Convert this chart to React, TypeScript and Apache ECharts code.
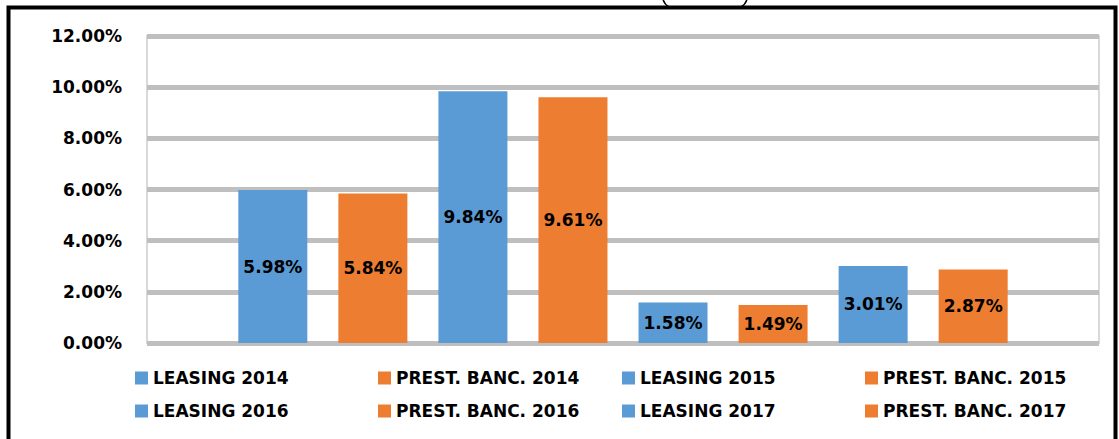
import React, { useEffect, useRef } from "react";
import * as echarts from "echarts";

const years = ["2014", "2015", "2016", "2017"];
const leasingValues = [5.98, 9.84, 1.58, 3.01];
const prestamoValues = [5.84, 9.61, 1.49, 2.87];
const yTicks = { min: 0, max: 12, interval: 2 };
const leasingPrefix = "LEASING";
const prestamoPrefix = "PREST. BANC.";

const BLUE = "#5B9BD5";
const ORANGE = "#ED7D31";
const FONT = "DejaVu Sans";

export default function App() {
  const ref = useRef<HTMLDivElement>(null);

  useEffect(() => {
    if (!ref.current) return;
    const chart = echarts.init(ref.current, undefined, { renderer: "svg" });

    const series: any[] = [];
    const names: string[] = [];
    years.forEach((y, i) => {
      const ln = `${leasingPrefix} ${y}`;
      const pn = `${prestamoPrefix} ${y}`;
      names.push(ln, pn);
      series.push({
        name: ln,
        type: "bar",
        data: [leasingValues[i]],
        itemStyle: { color: BLUE },
      });
      series.push({
        name: pn,
        type: "bar",
        data: [prestamoValues[i]],
        itemStyle: { color: ORANGE },
      });
    });
    series.forEach((s) => {
      s.barWidth = 69;
      s.barGap = "45%";
      s.label = {
        show: true,
        position: "inside",
        color: "#000",
        fontFamily: FONT,
        fontWeight: "bold",
        fontSize: 17,
        formatter: (p: any) => `${Number(p.value).toFixed(2)}%`,
      };
    });

    // legend columns: [0,4], [1,5], [2,6], [3,7]
    const colLefts = [130, 373, 617, 860];
    const legends = colLefts.map((left, c) => ({
      orient: "vertical",
      left,
      top: 364,
      itemWidth: 13,
      itemHeight: 13,
      itemGap: 15,
      icon: "rect",
      selectedMode: false,
      data: [names[c], names[c + 4]],
      textStyle: {
        color: "#000",
        fontFamily: FONT,
        fontWeight: "bold",
        fontSize: 17,
        lineHeight: 18,
        padding: 0,
      },
    }));

    chart.setOption({
      animation: false,
      backgroundColor: "#fff",
      grid: {
        left: 147,
        right: 20,
        top: 36,
        bottom: 96,
        show: true,
        borderColor: "#d9d9d9",
        borderWidth: 2,
      },
      legend: legends,
      xAxis: {
        type: "category",
        data: ["all"],
        axisLine: { show: false },
        axisTick: { show: false },
        axisLabel: { show: false },
      },
      yAxis: {
        type: "value",
        min: yTicks.min,
        max: yTicks.max,
        interval: yTicks.interval,
        axisLine: { show: false },
        axisTick: { show: false },
        axisLabel: {
          margin: 25,
          color: "#000",
          fontFamily: FONT,
          fontWeight: "bold",
          fontSize: 17,
          formatter: (v: number) => `${v.toFixed(2)}%`,
        },
        splitLine: { lineStyle: { color: "#bfbfbf", width: 5 } },
      },
      series,
      graphic: [
        {
          type: "bezierCurve",
          shape: { x1: 663, y1: -1, x2: 669, y2: 7, cpx1: 664, cpy1: 4 },
          style: { stroke: "#000", lineWidth: 1.5, fill: null },
          z: 100,
        },
        {
          type: "bezierCurve",
          shape: { x1: 747, y1: -1, x2: 741, y2: 7, cpx1: 746, cpy1: 4 },
          style: { stroke: "#000", lineWidth: 1.5, fill: null },
          z: 100,
        },
        {
          type: "rect",
          shape: { x: 8.5, y: 7.5, width: 1107, height: 600 },
          style: { stroke: "#000", lineWidth: 4, fill: null },
          z: 100,
        },
      ],
    });

    return () => chart.dispose();
  }, []);

  return (
    <div
      ref={ref}
      style={{ position: "fixed", left: 0, top: 0, width: 1119, height: 439 }}
    />
  );
}
